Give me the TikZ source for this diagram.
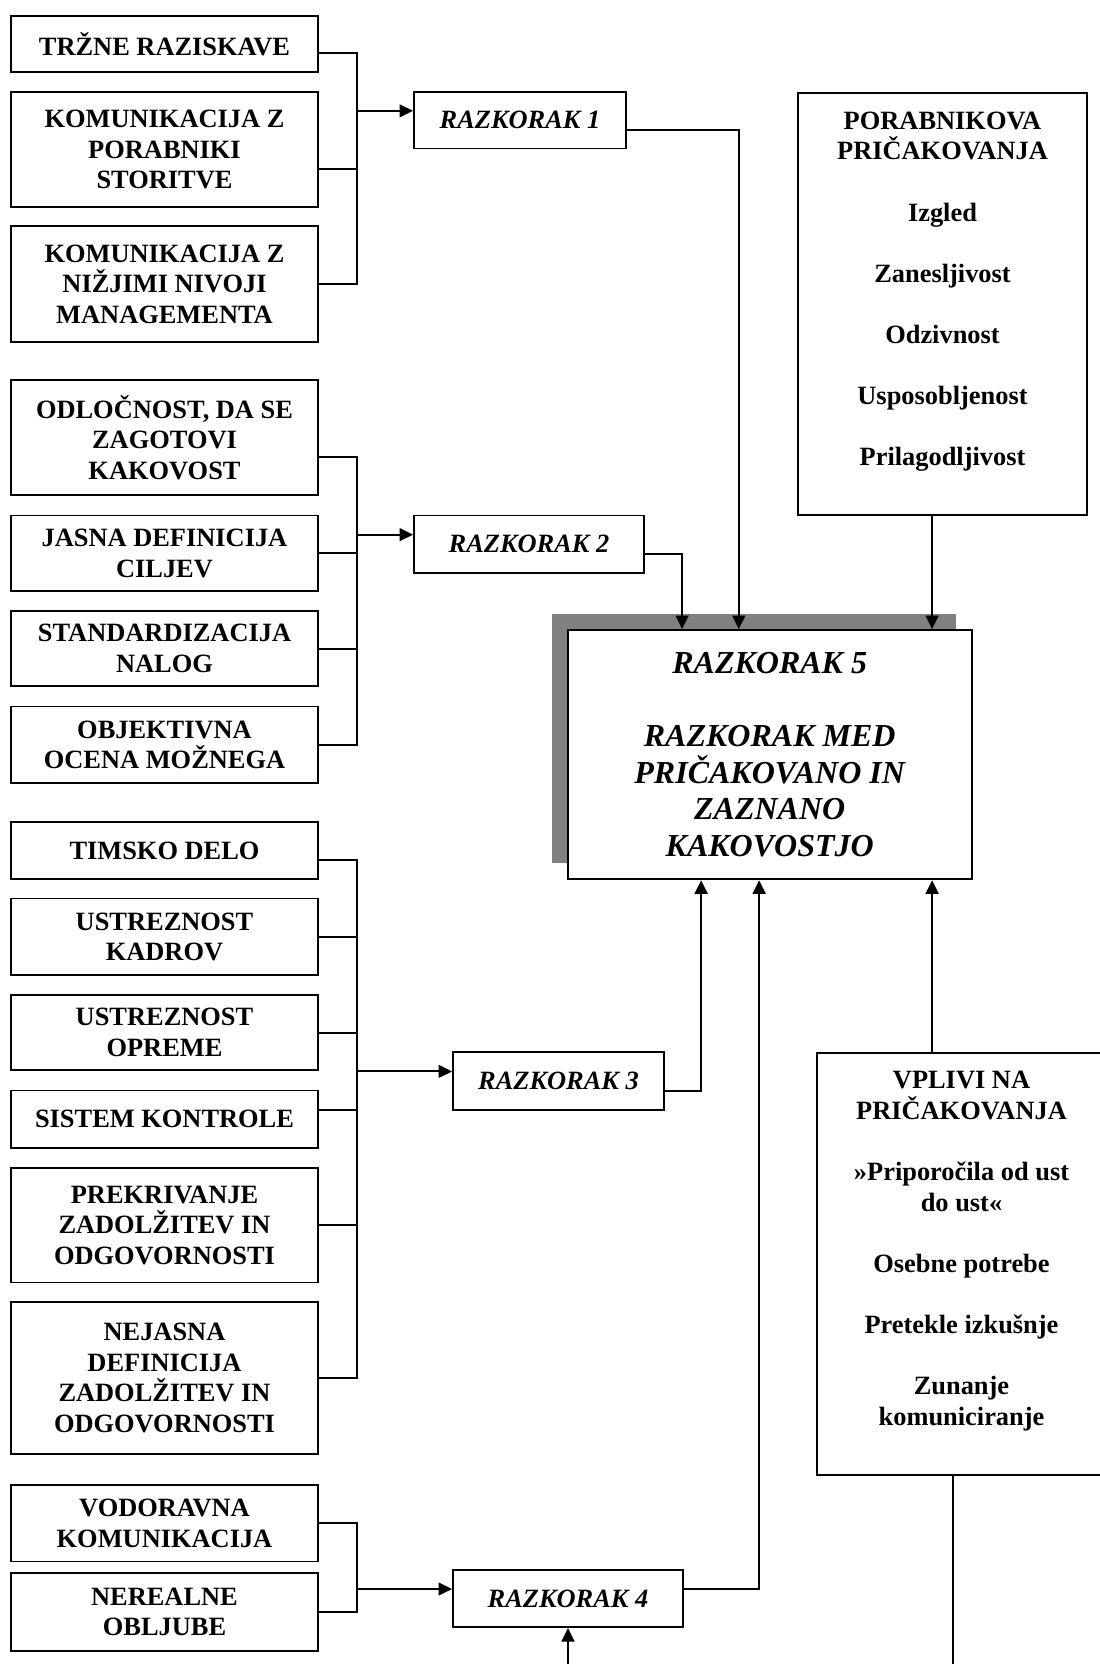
\documentclass[tikz,border=0pt]{standalone}
\usepackage{fontspec}
\setmainfont{Liberation Serif}
\usetikzlibrary{arrows.meta,calc}
\definecolor{shadowgray}{RGB}{128,128,128}
\begin{document}
\begin{tikzpicture}[x=0.5pt,y=-0.5pt,
  box/.style={draw, line width=0.9pt, inner sep=0pt, align=center, fill=white,
    font=\bfseries\fontsize{13.2}{15.3}\selectfont},
  lbox/.style={box, minimum width=153.5pt},
  gapbox/.style={box, font=\bfseries\itshape\fontsize{13.2}{15.3}\selectfont},
  txt/.style={inner sep=0pt, align=center, font=\bfseries\fontsize{13.2}{15.3}\selectfont},
  conn/.style={line width=1pt},
  arr/.style={conn, -{Triangle[length=6.8pt,width=6.4pt]}},
]
\useasboundingbox (0,0) rectangle (1099,1664);

% left column
\node[lbox, minimum height=28pt]    (tr) at (164.5,44)     {TRŽNE RAZISKAVE};
\node[lbox, minimum height=57.5pt]  (k1) at (164.5,149.5)  {KOMUNIKACIJA Z\\PORABNIKI\\STORITVE};
\node[lbox, minimum height=58pt]    (k2) at (164.5,284)    {KOMUNIKACIJA Z\\NIŽJIMI NIVOJI\\MANAGEMENTA};
\node[lbox, minimum height=57.5pt]  (od) at (164.5,437.5)  {ODLOČNOST, DA SE\\ZAGOTOVI\\KAKOVOST};
\node[lbox, minimum height=37.75pt] (ja) at (164.5,553.25) {JASNA DEFINICIJA\\CILJEV};
\node[lbox, minimum height=37.5pt]  (st) at (164.5,648.5)  {STANDARDIZACIJA\\NALOG};
\node[lbox, minimum height=38.25pt] (ob) at (164.5,744.75) {OBJEKTIVNA\\OCENA MOŽNEGA};
\node[lbox, minimum height=28.5pt]  (ti) at (164.5,850.5)  {TIMSKO DELO};
\node[lbox, minimum height=38.25pt] (uk) at (164.5,936.75) {USTREZNOST\\KADROV};
\node[lbox, minimum height=37.5pt]  (uo) at (164.5,1032.5) {USTREZNOST\\OPREME};
\node[lbox, minimum height=28.75pt] (si) at (164.5,1119.25){SISTEM KONTROLE};
\node[lbox, minimum height=57.25pt] (pr) at (164.5,1225.25){PREKRIVANJE\\ZADOLŽITEV IN\\ODGOVORNOSTI};
\node[lbox, minimum height=76.2pt]  (nj) at (164.5,1377.8) {NEJASNA\\DEFINICIJA\\ZADOLŽITEV IN\\ODGOVORNOSTI};
\node[lbox, minimum height=38.25pt] (vo) at (164.5,1523.25){VODORAVNA\\KOMUNIKACIJA};
\node[lbox, minimum height=38.8pt]  (nr) at (164.5,1611.8) {NEREALNE\\OBLJUBE};

% gap boxes
\node[gapbox, minimum width=106pt,   minimum height=28.25pt] (r1) at (520,120.25)  {RAZKORAK 1};
\node[gapbox, minimum width=115pt,   minimum height=28.75pt] (r2) at (529,544.25)  {RAZKORAK 2};
\node[gapbox, minimum width=105.5pt, minimum height=29pt]    (r3) at (558.5,1081)  {RAZKORAK 3};
\node[gapbox, minimum width=115pt,   minimum height=28.5pt]  (r4) at (568,1598.5)  {RAZKORAK 4};

% gap 5 with shadow
\node[fill=shadowgray, inner sep=0pt, minimum width=202pt, minimum height=124.65pt] (r5s) at (753.7,738.65) {};
\node[box, minimum width=202pt, minimum height=124.65pt,
  font=\bfseries\itshape\fontsize{16}{18.3}\selectfont] (r5) at (769.7,754.65)
  {RAZKORAK 5\\[18.3pt]RAZKORAK MED\\PRIČAKOVANO IN\\ZAZNANO\\KAKOVOSTJO};

% right boxes
\node[box, minimum width=144.5pt, minimum height=211.15pt] (po) at (942.5,303.85) {};
\node[txt, anchor=north] (potx) at ([yshift=-9.8pt]po.north)
  {PORABNIKOVA\\PRIČAKOVANJA\\[15.3pt]Izgled\\[15.3pt]Zanesljivost\\[15.3pt]Odzivnost\\[15.3pt]Usposobljenost\\[15.3pt]Prilagodljivost};
\node[box, minimum width=144.5pt, minimum height=211pt] (vp) at (961.5,1263.7) {};
\node[txt, anchor=north] (vptx) at ([yshift=-9.5pt]vp.north)
  {VPLIVI NA\\PRIČAKOVANJA\\[15.3pt]»Priporočila od ust\\do ust«\\[15.3pt]Osebne potrebe\\[15.3pt]Pretekle izkušnje\\[15.3pt]Zunanje\\komuniciranje};

% helper coordinates
\coordinate (bx) at (357,0);
\path ([yshift=-4.67pt]tr.east) coordinate (ctr);
\path ([yshift=-9.58pt]k1.east) coordinate (ck1);
\path ([yshift=-9.58pt]od.east) coordinate (cod);
\path ([yshift=-4.75pt]ti.east) coordinate (cti);
\path ([yshift=4.8pt]si.east)   coordinate (csi);
\path ([yshift=4.7pt]r1.west)   coordinate (r1in);
\path ([yshift=-4.7pt]r1.east)  coordinate (r1out);
\path ([yshift=4.8pt]r2.west)   coordinate (r2in);
\path ([yshift=-4.8pt]r2.east)  coordinate (r2out);
\path ([yshift=4.8pt]r3.west)   coordinate (r3in);
\path ([yshift=-4.8pt]r3.east)  coordinate (r3out);
\path ([yshift=4.75pt]r4.west)  coordinate (r4in);
\path ([yshift=4.75pt]r4.east)  coordinate (r4out);
\coordinate (t2) at ($(r5.north west)+(115.3,0)$);
\coordinate (t1) at ($(r5.north west)+(172,0)$);
\coordinate (t3) at ($(r5.north west)+(365.3,0)$);
\coordinate (b3) at ($(r5.south west)+(134.3,0)$);
\coordinate (b4) at ($(r5.south west)+(192.3,0)$);
\coordinate (b5) at ($(r5.south west)+(365.3,0)$);
\coordinate (vend) at (953,1664);
\coordinate (r4src) at (568,1664);

% group 1
\draw[conn] (ctr) -- (ctr -| bx) -- (k2.east -| bx) -- (k2.east);
\draw[conn] (ck1) -- (ck1 -| bx);
\draw[arr] (r1in -| bx) -- (r1in);
% group 2
\draw[conn] (cod) -- (cod -| bx) -- (ob.east -| bx) -- (ob.east);
\draw[conn] (ja.east) -- (ja.east -| bx);
\draw[conn] (st.east) -- (st.east -| bx);
\draw[arr] (r2in -| bx) -- (r2in);
% group 3
\draw[conn] (cti) -- (cti -| bx) -- (nj.east -| bx) -- (nj.east);
\draw[conn] (uk.east) -- (uk.east -| bx);
\draw[conn] (uo.east) -- (uo.east -| bx);
\draw[conn] (csi) -- (csi -| bx);
\draw[conn] (pr.east) -- (pr.east -| bx);
\draw[arr] (r3in -| bx) -- (r3in);
% group 4
\draw[conn] (vo.east) -- (vo.east -| bx) -- (nr.east -| bx) -- (nr.east);
\draw[arr] (r4in -| bx) -- (r4in);

% into gap 5
\draw[arr] (r1out) -| (t1);
\draw[arr] (r2out) -| (t2);
\draw[arr] (po.south -| t3) -- (t3);
\draw[arr] (r3out) -| (b3);
\draw[arr] (r4out) -| (b4);
\draw[arr] (vp.north -| b5) -- (b5);
\draw[conn] (vp.south -| vend) -- (vend);
\draw[arr] (r4src) -- (r4.south);
\end{tikzpicture}
\end{document}
